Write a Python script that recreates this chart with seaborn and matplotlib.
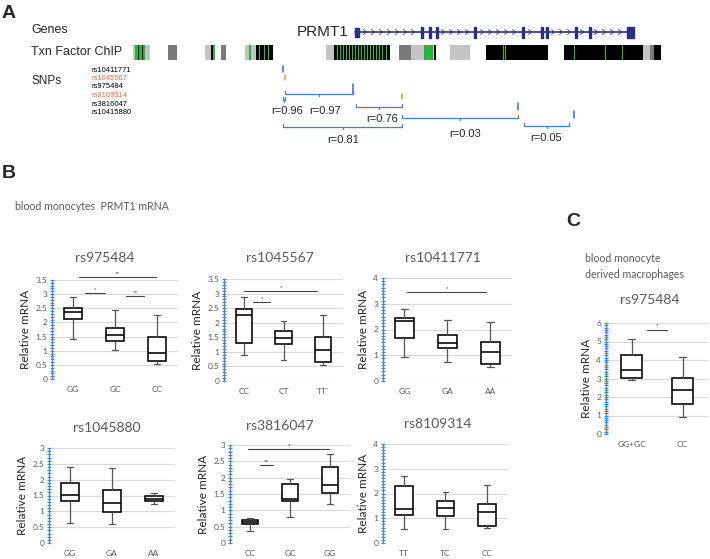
import numpy as np
import pandas as pd
import matplotlib
matplotlib.use("Agg")
import matplotlib.pyplot as plt
from matplotlib.patches import Rectangle
from matplotlib.ticker import MultipleLocator, AutoMinorLocator
import seaborn as sns

W, H = 710, 559

# ---------------- panel A: gene track (x in pixel-like genome units) ----------------
gene_start, gene_end = 355, 634
exon_x = [422, 430, 437, 475, 523, 542, 547, 576, 590]
intron_spans = [(362, 418), (440, 470), (479, 520), (527, 540), (550, 572), (579, 588), (593, 625)]

# ChIP segments: (start, end, kind)  lg=light gray, dg=dark gray, k=black, g=green
chip_segments = [
    (133, 150, "lg"), (135, 145, "g"), (168, 177, "dg"),
    (205, 213, "lg"), (211, 213, "k"), (213, 215, "g"), (221, 226, "dg"),
    (245, 256, "lg"), (249, 251, "g"), (256, 273, "k"),
    (326, 334, "lg"), (334, 390, "k"),
    (399, 411, "dg"), (411, 434, "lg"), (424, 433, "g"), (434, 436, "k"),
    (450, 470, "lg"), (486, 548, "k"), (564, 643, "k"),
    (643, 650, "lg"), (650, 654, "dg"), (654, 661, "k"),
]
chip_green_lines = [137, 141, 259, 264, 268, 337, 340, 343, 346, 349, 352, 355, 358, 361,
                    364, 367, 370, 373, 376, 379, 382, 386, 428, 503, 505, 574, 605, 622]
chip_black_lines = [138, 142, 212, 257]

snp_names = ["rs10411771", "rs1045567", "rs975484", "rs8109314", "rs3816047", "rs10415880"]
snp_colors = ["black", "#e0703a", "black", "#e0703a", "black", "black"]
snp_pos = [283, 285, 353, 402, 518, 574]
snp_tick_color = ["#3a6fc4", "#d9a520", "#3a6fc4", "#d9a520", "#3a6fc4", "#3a6fc4"]

# LD brackets: (snp from, snp to, r value)
ld_pairs = [(0, 1, "r=0.96"), (1, 2, "r=0.97"), (2, 3, "r=0.76"),
            (0, 3, "r=0.81"), (3, 4, "r=0.03"), (4, 5, "r=0.05")]

# ---------------- panel B / C: box summaries [low, Q1, median, Q3, high] ----------------
p1_labels = ["GG", "GC", "CC"]
p1_stats = [[1.40, 2.13, 2.38, 2.52, 2.91], [1.04, 1.33, 1.55, 1.79, 2.43], [0.53, 0.62, 0.93, 1.48, 2.25]]
p2_labels = ["CC", "CT", "TT`"]
p2_stats = [[0.89, 1.30, 2.27, 2.46, 2.87], [0.72, 1.26, 1.46, 1.73, 2.07], [0.55, 0.66, 1.08, 1.51, 2.27]]
p3_labels = ["GG", "GA", "AA"]
p3_stats = [[0.93, 1.67, 2.34, 2.46, 2.81], [0.72, 1.29, 1.49, 1.80, 2.38], [0.56, 0.65, 1.13, 1.50, 2.30]]
p4_labels = ["GG", "GA", "AA"]
p4_stats = [[0.63, 1.33, 1.52, 1.88, 2.40], [0.61, 0.98, 1.25, 1.67, 2.37], [1.24, 1.33, 1.40, 1.47, 1.59]]
p5_labels = ["CC", "GC", "GG"]
p5_stats = [[0.37, 0.57, 0.63, 0.71, 0.76], [0.79, 1.30, 1.36, 1.80, 1.95], [1.19, 1.52, 1.79, 2.32, 2.73]]
p6_labels = ["TT", "TC", "CC"]
p6_stats = [[0.58, 1.13, 1.39, 2.32, 2.70], [0.55, 1.11, 1.43, 1.68, 2.06], [0.62, 0.68, 1.26, 1.58, 2.35]]
c_labels = ["GG+GC", "CC"]
c_stats = [[2.92, 3.05, 3.45, 4.28, 5.15], [0.91, 1.60, 2.38, 3.02, 4.18]]

# significance bars: (x from, x to, y, stars)
p1_sig = [(0.14, 1.98, 3.59, "**"), (0.28, 0.75, 3.05, "*"), (1.25, 1.70, 2.94, "**")]
p2_sig = [(0.0, 1.85, 3.09, "*"), (0.22, 0.67, 2.72, "*")]
p3_sig = [(0.05, 1.90, 3.46, "*")]
p5_sig = [(-0.04, 1.98, 2.88, "*"), (0.25, 0.58, 2.38, "**")]
c_sig = [(0.3, 0.7, 5.64, "*")]

sns.set_style("white")
plt.rcParams["font.family"] = ["Lato", "DejaVu Sans"]

fig = plt.figure(figsize=(W / 100, H / 100), dpi=100)
ax0 = fig.add_axes([0, 0, 1, 1])
ax0.set_xlim(0, W)
ax0.set_ylim(H, 0)
ax0.axis("off")

arial = ["Liberation Sans", "DejaVu Sans"]
grey_txt = "#595959"

# ---- Panel A ----
ax0.text(9, 13, "A", fontsize=14, fontweight="bold", family=arial, va="center", ha="center")
ax0.text(31, 30, "Genes", fontsize=9, family=arial, va="center")
ax0.text(348, 32, "PRMT1", fontsize=11, family=arial, va="center", ha="right")
navy = "#2b2f80"
ax0.plot([gene_start, gene_end], [32, 32], color=navy, lw=1.2)
ax0.add_patch(Rectangle((gene_start, 27.5), 4, 9, color=navy))
ax0.add_patch(Rectangle((gene_end - 7, 26.5), 7, 11, color=navy))
for x in exon_x:
    ax0.add_patch(Rectangle((x - 1.2, 26.5), 2.4, 11, color=navy))
for a, b in intron_spans:
    for x in np.arange(a + 3, b - 2, 8):
        ax0.plot([x - 1.5, x + 1.5, x - 1.5], [29.5, 32, 34.5], color=navy, lw=0.6)

ax0.text(31, 52, "Txn Factor ChIP", fontsize=9, family=arial, va="center")
chip_col = {"lg": "#c4c4c4", "dg": "#7a7a7a", "k": "black", "g": "#22b43c"}
for a, b, kind in chip_segments:
    ax0.add_patch(Rectangle((a, 45), b - a, 15, color=chip_col[kind], lw=0))
for x in chip_green_lines:
    ax0.add_patch(Rectangle((x, 45), 1.0, 15, color="#22c040", lw=0))
for x in chip_black_lines:
    ax0.add_patch(Rectangle((x, 45), 0.8, 15, color="black", lw=0))

ax0.text(31, 81, "SNPs", fontsize=8.5, family=arial, va="center")
snp_y = [70, 78.5, 87, 95.5, 104, 112.5]
for name, col, y in zip(snp_names, snp_colors, snp_y):
    ax0.text(92, y, name, fontsize=5.5, family=arial, color=col, va="center")

# SNP ticks
tick_y = [(66, 72), (75, 80), (84, 94), (94, 99), (103, 110), (111, 118)]
for x, (y0, y1), c in zip(snp_pos, tick_y, snp_tick_color):
    ax0.plot([x, x], [y0, y1], color=c, lw=1.1)

bracket_y = [100, 94, 107, 127, 118, 126]
label_xy = [(287, 111), (325, 111), (382, 119), (343, 140), (465, 134), (546, 138)]
bl = "#4a7cc8"
for (i, j, r), y, (lx, ly) in zip(ld_pairs, bracket_y, label_xy):
    x0, x1 = snp_pos[i], snp_pos[j]
    if (i, j) == (4, 5):
        x0, x1 = 524, 569
    if (i, j) == (2, 3):
        x0 = 356
    ax0.plot([x0, x0, x1, x1], [y - 3, y, y, y - 3], color=bl, lw=0.9)
    xm = (x0 + x1) / 2
    ax0.plot([xm, xm], [y, y + 2], color=bl, lw=0.9)
    ax0.text(lx, ly, r, fontsize=8, family=arial, ha="center", va="center")

# ---- Panel B / C headers ----
ax0.text(9, 173, "B", fontsize=14, fontweight="bold", family=arial, va="center", ha="center")
ax0.text(573, 222, "C", fontsize=14, fontweight="bold", family=arial, va="center", ha="center")
ax0.text(15, 207, "blood monocytes  PRMT1 mRNA", fontsize=7.6, color=grey_txt, va="center")
ax0.text(585, 259, "blood monocyte", fontsize=7.6, color=grey_txt, va="center")
ax0.text(585, 274, "derived macrophages", fontsize=7.6, color=grey_txt, va="center")

blue_axis = "#4a86c8"


def draw_box(rect, title, title_xy, labels, stats, ymax, ystep, sig, width):
    l, t, r, b = rect
    ax = fig.add_axes([l / W, 1 - b / H, (r - l) / W, (b - t) / H])
    df = pd.DataFrame({"genotype": np.repeat(labels, 5), "value": np.concatenate(stats)})
    sns.boxplot(data=df, x="genotype", y="value", order=labels, ax=ax, whis=(0, 100),
                width=width, color="white", linecolor="black", linewidth=1.15, showfliers=False,
                whiskerprops={"color": "#555555", "linewidth": 0.9},
                capprops={"color": "#555555", "linewidth": 0.9},
                capwidths=width / 3)
    ax.set_ylim(0, ymax)
    ax.set_xlim(-0.5, len(labels) - 0.5)
    ax.yaxis.set_major_locator(MultipleLocator(ystep))
    ax.yaxis.set_minor_locator(AutoMinorLocator(5 if ystep < 1 else 8))
    ax.set_yticks(np.arange(0, ymax + 1e-9, ystep))
    ax.set_yticklabels([f"{v:g}" for v in np.arange(0, ymax + 1e-9, ystep)])
    ax.grid(axis="y", color="#d9d9d9", lw=0.8)
    ax.set_axisbelow(True)
    for s in ["top", "right", "bottom"]:
        ax.spines[s].set_visible(False)
    ax.spines["left"].set_color(blue_axis)
    ax.spines["left"].set_linewidth(1.0)
    ax.tick_params(axis="y", which="both", left=True, direction="inout", length=3.0, width=0.8,
                   color=blue_axis, labelsize=6, labelcolor=grey_txt, pad=2)
    ax.tick_params(axis="x", length=0, labelsize=6, labelcolor=grey_txt, pad=5)
    ax.set_xlabel("")
    ax.set_ylabel("Relative mRNA", fontsize=8.5, color="#262626", labelpad=3)
    for x0, x1, y, stars in sig:
        ax.plot([x0, x1], [y, y], color="#444444", lw=0.8, clip_on=False)
        ax.text((x0 + x1) / 2, y + ymax * 0.01, stars, fontsize=4.5, ha="center",
                va="bottom", clip_on=False)
    ax0.text(title_xy[0], title_xy[1], title, fontsize=10, color=grey_txt, ha="center", va="center")
    return ax


draw_box((52, 280, 178, 379), "rs975484", (105, 258), p1_labels, p1_stats, 3.5, 0.5, p1_sig, 0.42)
draw_box((224, 279, 343, 381), "rs1045567", (280, 258), p2_labels, p2_stats, 3.5, 0.5, p2_sig, 0.42)
draw_box((383, 278, 512, 381), "rs10411771", (443, 258), p3_labels, p3_stats, 4, 1, p3_sig, 0.42)
draw_box((49, 448, 175, 543), "rs1045880", (107, 428), p4_labels, p4_stats, 3, 0.5, [], 0.42)
draw_box((230, 445, 350, 543), "rs3816047", (280, 426), p5_labels, p5_stats, 3, 0.5, p5_sig, 0.42)
draw_box((383, 444, 508, 543), "rs8109314", (438, 424), p6_labels, p6_stats, 4, 1, [], 0.42)
draw_box((606, 323, 708, 434), "rs975484", (650, 300), c_labels, c_stats, 6, 1, c_sig, 0.4)

fig.savefig("out.png", dpi=100)
